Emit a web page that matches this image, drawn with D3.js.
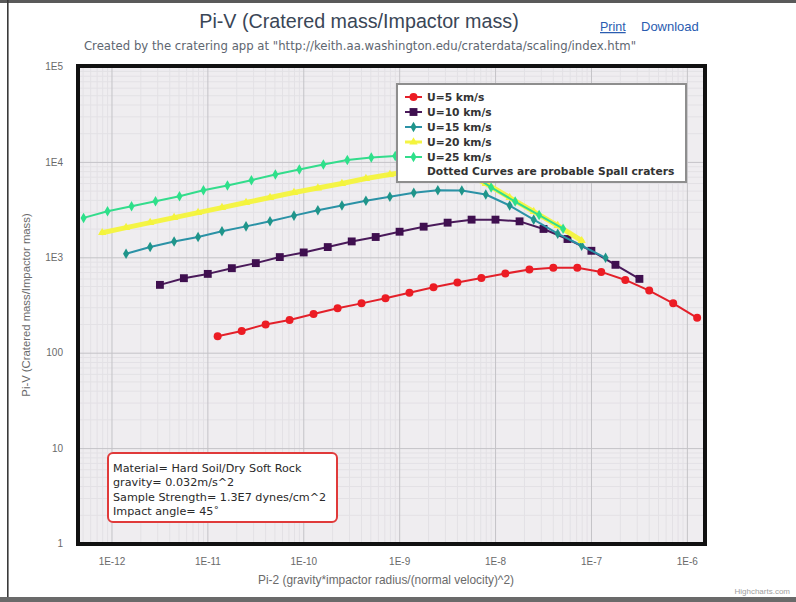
<!DOCTYPE html>
<html>
<head>
<meta charset="utf-8">
<script src="https://cdn.jsdelivr.net/npm/d3@7"></script>
<style>
  html, body { margin: 0; padding: 0; background: #fff; }
  svg { display: block; font-family: "DejaVu Sans", Verdana, sans-serif; }
</style>
</head>
<body>
<svg id="chart" width="796" height="602"></svg>
<script>
// Pi-2 (gravity-scaled size) values for each impact velocity
const xU5  = [1.28e-11, 2.28e-11, 4.05e-11, 7.2e-11, 1.28e-10, 2.28e-10, 4.05e-10, 7.2e-10, 1.28e-9, 2.28e-9, 4.05e-9, 7.2e-9, 1.28e-8, 2.28e-8, 4.05e-8, 7.2e-8, 1.28e-7, 2.28e-7, 4.05e-7, 7.2e-7, 1.28e-6];
const xU10 = [3.2e-12, 5.69e-12, 1.01e-11, 1.8e-11, 3.2e-11, 5.69e-11, 1.01e-10, 1.8e-10, 3.2e-10, 5.69e-10, 1.01e-9, 1.8e-9, 3.2e-9, 5.69e-9, 1.01e-8, 1.8e-8, 3.2e-8, 5.69e-8, 1.01e-7, 1.8e-7, 3.2e-7];
const xU15 = [1.42e-12, 2.53e-12, 4.5e-12, 8e-12, 1.42e-11, 2.53e-11, 4.5e-11, 8e-11, 1.42e-10, 2.53e-10, 4.5e-10, 8e-10, 1.42e-9, 2.53e-9, 4.5e-9, 8e-9, 1.42e-8, 2.53e-8, 4.5e-8, 8e-8, 1.42e-7];
const xU20 = [8e-13, 1.42e-12, 2.53e-12, 4.5e-12, 8e-12, 1.42e-11, 2.53e-11, 4.5e-11, 8e-11, 1.42e-10, 2.53e-10, 4.5e-10, 8e-10, 1.42e-9, 2.53e-9, 4.5e-9, 8e-9, 1.42e-8, 2.53e-8, 4.5e-8, 8e-8];
const xU25 = [5.12e-13, 9.1e-13, 1.62e-12, 2.88e-12, 5.12e-12, 9.1e-12, 1.62e-11, 2.88e-11, 5.12e-11, 9.1e-11, 1.62e-10, 2.88e-10, 5.12e-10, 9.1e-10, 1.62e-9, 2.88e-9, 5.12e-9, 9.1e-9, 1.62e-8, 2.88e-8, 5.12e-8];

// Pi-V (cratered mass / impactor mass)
const yU5  = [149, 169, 198, 220, 254, 292, 329, 372, 426, 485, 543, 608, 675, 745, 775, 775, 703, 579, 448, 329, 232];
const yU10 = [514, 604, 670, 769, 869, 1005, 1124, 1280, 1467, 1632, 1854, 2094, 2307, 2482, 2482, 2382, 1982, 1555, 1170, 834, 594];
const yU15 = [1088, 1280, 1467, 1632, 1871, 2110, 2382, 2734, 3110, 3486, 3906, 4305, 4745, 5050, 5025, 4550, 3486, 2482, 1767, 1322, 988];
const yU20 = [1811, 2047, 2307, 2606, 2940, 3318, 3750, 4230, 4775, 5325, 5940, 6700, 7380, 8140, 8550, 7950, 5940, 4230, 3010, 2150, 1493];
const yU25 = [2588, 3034, 3426, 3867, 4365, 5050, 5660, 6430, 7380, 8330, 9410, 10450, 11150, 11500, 11560, 10610, 7940, 5400, 3840, 2770, 1995];

const seriesNames = ["U=5 km/s", "U=10 km/s", "U=15 km/s", "U=20 km/s", "U=25 km/s"];
const legendNote = "Dotted Curves are probable Spall craters";

const xTicks = [1e-12, 1e-11, 1e-10, 1e-9, 1e-8, 1e-7, 1e-6];
const xTickLabels = ["1E-12", "1E-11", "1E-10", "1E-9", "1E-8", "1E-7", "1E-6"];
const yTicks = [1, 10, 100, 1e3, 1e4, 1e5];
const yTickLabels = ["1", "10", "100", "1E3", "1E4", "1E5"];

const infoLines = [
  "Material= Hard Soil/Dry Soft Rock",
  "gravity= 0.032m/s^2",
  "Sample Strength= 1.3E7 dynes/cm^2",
  "Impact angle= 45\u02DA"
];

// ---- styling ----
const styles = [
  { color: "#ec1c24", line: "#e3202a", width: 2, symbol: d3.symbolCircle, size: 50 },
  { color: "#3f0f4f", line: "#4a1a5a", width: 2, symbol: d3.symbolSquare, size: 62 },
  { color: "#1f958a", line: "#2b92a6", width: 2, symbol: d3.symbolDiamond, size: 32 },
  { color: "#f4f43c", line: "#f4f445", width: 5, symbol: d3.symbolTriangle, size: 30 },
  { color: "#2ee08a", line: "#33dc8c", width: 2, symbol: d3.symbolDiamond, size: 32 }
];

const series = [
  { name: seriesNames[0], x: xU5,  y: yU5 },
  { name: seriesNames[1], x: xU10, y: yU10 },
  { name: seriesNames[2], x: xU15, y: yU15 },
  { name: seriesNames[3], x: xU20, y: yU20 },
  { name: seriesNames[4], x: xU25, y: yU25 }
];

const svg = d3.select("#chart");
const L = 78, R = 705, T = 66, B = 544;
const SANS = "'Liberation Sans', Arial, sans-serif";
const WIDE = "'DejaVu Sans', Verdana, sans-serif";

// outer window frame
svg.append("rect").attr("x", 0).attr("y", 0).attr("width", 796).attr("height", 3).attr("fill", "#5a5a5a");
svg.append("rect").attr("x", 0).attr("y", 597).attr("width", 796).attr("height", 5).attr("fill", "#6a6a6a");
svg.append("rect").attr("x", 7).attr("y", 0).attr("width", 1.6).attr("height", 597).attr("fill", "#3a3a3a");

const x = d3.scaleLog().domain([Math.pow(10, -12.349), Math.pow(10, -5.811)]).range([L, R]);
const y = d3.scaleLog().domain([1, 1e5]).range([B - 0.5, T + 0.5]);

// plot background
svg.append("rect").attr("x", L).attr("y", T).attr("width", R - L).attr("height", B - T).attr("fill", "#efedf0");

// minor grid lines (2..9 within each decade)
const xMinor = [], yMinor = [];
xTicks.concat([1e-13]).forEach(d => { for (let k = 2; k <= 9; k++) { const v = d * k; if (x(v) > L && x(v) < R) xMinor.push(v); } });
yTicks.forEach(d => { for (let k = 2; k <= 9; k++) { const v = d * k; if (y(v) > T && y(v) < B) yMinor.push(v); } });

const gridMinorX = svg.append("g").attr("transform", `translate(0,${B})`)
  .call(d3.axisBottom(x).tickValues(xMinor).tickSize(-(B - T)).tickFormat(""));
const gridMinorY = svg.append("g").attr("transform", `translate(${L},0)`)
  .call(d3.axisLeft(y).tickValues(yMinor).tickSize(-(R - L)).tickFormat(""));
[gridMinorX, gridMinorY].forEach(g => {
  g.select(".domain").remove();
  g.selectAll("line").attr("stroke", "#e3e1e5").attr("stroke-width", 1);
});

// major grid lines
const gridX = svg.append("g").attr("transform", `translate(0,${B})`)
  .call(d3.axisBottom(x).tickValues(xTicks).tickSize(-(B - T)).tickFormat(""));
const gridY = svg.append("g").attr("transform", `translate(${L},0)`)
  .call(d3.axisLeft(y).tickValues(yTicks).tickSize(-(R - L)).tickFormat(""));
[gridX, gridY].forEach(g => {
  g.select(".domain").remove();
  g.selectAll("line").attr("stroke", "#c4c3c7").attr("stroke-width", 1);
});

// series
svg.append("clipPath").attr("id", "plotclip")
  .append("rect").attr("x", L).attr("y", T).attr("width", R - L).attr("height", B - T);
const plot = svg.append("g").attr("clip-path", "url(#plotclip)");
const line = d3.line().x(d => x(d[0])).y(d => y(d[1]));

series.forEach((s, i) => {
  const st = styles[i];
  const pts = s.x.map((v, j) => [v, s.y[j]]);
  plot.append("path").datum(pts)
    .attr("d", line).attr("fill", "none")
    .attr("stroke", st.line).attr("stroke-width", st.width)
    .attr("stroke-linejoin", "round").attr("stroke-linecap", "round");
  plot.selectAll(null).data(pts).enter().append("path")
    .attr("d", d3.symbol().type(st.symbol).size(st.size))
    .attr("transform", d => `translate(${x(d[0])},${y(d[1])})`)
    .attr("fill", st.color);
});

// plot border
svg.append("rect").attr("x", L).attr("y", T).attr("width", R - L).attr("height", B - T)
  .attr("fill", "none").attr("stroke", "#111").attr("stroke-width", 4);

// axis labels
const xAxis = svg.append("g").attr("transform", `translate(0,${B})`)
  .call(d3.axisBottom(x).tickValues(xTicks).tickSize(0).tickPadding(14)
    .tickFormat((d, i) => xTickLabels[i]));
const yAxis = svg.append("g").attr("transform", `translate(${L},0)`)
  .call(d3.axisLeft(y).tickValues(yTicks).tickSize(0).tickPadding(15)
    .tickFormat((d, i) => yTickLabels[i]));
[xAxis, yAxis].forEach(g => {
  g.select(".domain").remove();
  g.selectAll("text").attr("fill", "#6a6a6a").style("font-size", "10px")
    .style("font-family", SANS);
});

// axis titles
svg.append("text").attr("x", 386).attr("y", 584).attr("text-anchor", "middle")
  .attr("fill", "#6a6a6a").style("font-size", "11.9px").style("font-family", SANS)
  .text("Pi-2 (gravity*impactor radius/(normal velocity)^2)");
svg.append("text").attr("transform", "translate(30,305) rotate(-90)").attr("text-anchor", "middle")
  .attr("fill", "#6a6a6a").style("font-size", "11.3px").style("font-family", SANS)
  .text("Pi-V (Cratered mass/Impactor mass)");

// titles
svg.append("text").attr("x", 359).attr("y", 28).attr("text-anchor", "middle")
  .attr("fill", "#3a4656").style("font-size", "19.7px").style("font-family", SANS)
  .text("Pi-V (Cratered mass/Impactor mass)");
svg.append("text").attr("x", 360).attr("y", 50).attr("text-anchor", "middle")
  .attr("fill", "#5e6670").style("font-size", "11.7px").style("font-family", WIDE)
  .text("Created by the cratering app at \"http://keith.aa.washington.edu/craterdata/scaling/index.htm\"");

// export links
svg.append("text").attr("x", 600).attr("y", 31).attr("fill", "#2a5cb0").style("font-size", "12.5px")
  .style("font-family", SANS).style("text-decoration", "underline").text("Print");
svg.append("text").attr("x", 641).attr("y", 31).attr("fill", "#2a5cb0").style("font-size", "13px")
  .style("font-family", SANS).text("Download");

// credit
svg.append("text").attr("x", 790).attr("y", 594).attr("text-anchor", "end")
  .attr("fill", "#a0a0a0").style("font-size", "8px").style("font-family", SANS).text("Highcharts.com");

// legend
const lg = svg.append("g").attr("transform", "translate(397,84)");
lg.append("rect").attr("width", 289).attr("height", 98).attr("fill", "#fff")
  .attr("stroke", "#8e8e8e").attr("stroke-width", 2);
series.forEach((s, i) => {
  const st = styles[i];
  const cy = 13 + i * 15;
  lg.append("line").attr("x1", 8).attr("x2", 25).attr("y1", cy).attr("y2", cy)
    .attr("stroke", st.line).attr("stroke-width", Math.min(st.width, 3));
  lg.append("path").attr("d", d3.symbol().type(st.symbol).size(st.size))
    .attr("transform", `translate(16.5,${cy})`).attr("fill", st.color);
  lg.append("text").attr("x", 30).attr("y", cy + 4).attr("fill", "#333")
    .style("font-size", "10.7px").style("font-weight", "bold").style("font-family", WIDE).text(s.name);
});
lg.append("text").attr("x", 30).attr("y", 13 + 5 * 15 + 3).attr("fill", "#333")
  .style("font-size", "10.7px").style("font-weight", "bold").style("font-family", WIDE).text(legendNote);

// info box
const ib = svg.append("g").attr("transform", "translate(108,453)");
ib.append("rect").attr("width", 229).attr("height", 69).attr("rx", 5).attr("ry", 5)
  .attr("fill", "#fff").attr("stroke", "#e03a3a").attr("stroke-width", 2);
infoLines.forEach((t, i) => {
  ib.append("text").attr("x", 5).attr("y", 19 + i * 14.3).attr("fill", "#2a2a2a")
    .style("font-size", "11.2px").style("font-family", WIDE).text(t);
});
</script>
</body>
</html>
